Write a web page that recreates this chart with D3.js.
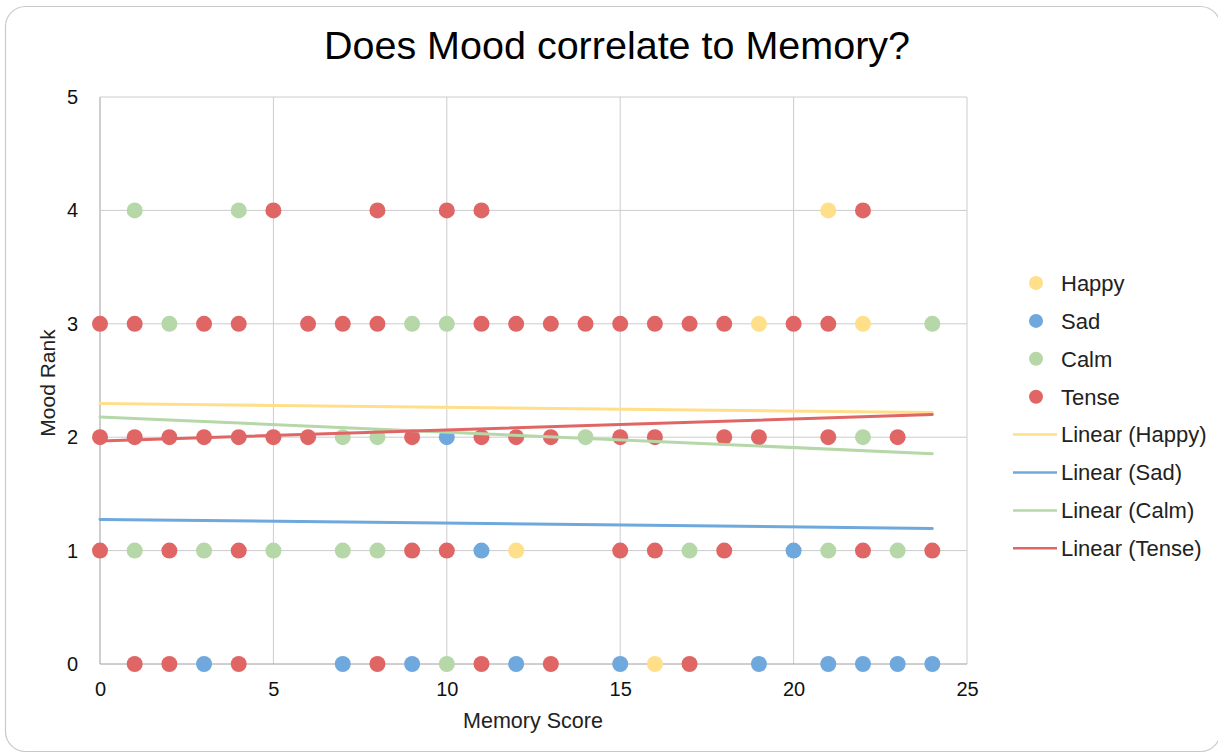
<!DOCTYPE html>
<html>
<head>
<meta charset="utf-8">
<script src="https://cdn.jsdelivr.net/npm/d3@7"></script>
<style>
  html, body { margin: 0; padding: 0; background: #ffffff; }
  svg { display: block; }
  text { font-family: "Liberation Sans", Arial, Helvetica, sans-serif; fill: #222; }
</style>
</head>
<body>
<svg id="chart" width="1218" height="755"></svg>
<script>
// Memory score (x) and mood rank (y) for each mood group
const happyX = [21, 19, 22, 12, 16];
const happyY = [4, 3, 3, 1, 0];

const sadX = [10, 11, 20, 3, 7, 9, 12, 15, 19, 21, 22, 23, 24];
const sadY = [2, 1, 1, 0, 0, 0, 0, 0, 0, 0, 0, 0, 0];

const calmX = [1, 4, 2, 9, 10, 24, 7, 8, 14, 22, 1, 3, 5, 7, 8, 17, 21, 23, 10];
const calmY = [4, 4, 3, 3, 3, 3, 2, 2, 2, 2, 1, 1, 1, 1, 1, 1, 1, 1, 0];

const tenseX = [5, 8, 10, 11, 22,
  0, 1, 3, 4, 6, 7, 8, 11, 12, 13, 14, 15, 16, 17, 18, 20, 21,
  0, 1, 2, 3, 4, 5, 6, 9, 11, 12, 13, 15, 16, 18, 19, 21, 23,
  0, 2, 4, 9, 10, 15, 16, 18, 22, 24,
  1, 2, 4, 8, 11, 13, 17];
const tenseY = [4, 4, 4, 4, 4,
  3, 3, 3, 3, 3, 3, 3, 3, 3, 3, 3, 3, 3, 3, 3, 3, 3,
  2, 2, 2, 2, 2, 2, 2, 2, 2, 2, 2, 2, 2, 2, 2, 2, 2,
  1, 1, 1, 1, 1, 1, 1, 1, 1, 1,
  0, 0, 0, 0, 0, 0, 0];

// Linear trendline coefficients (mood rank = intercept + slope * score)
const trendNames = ["Happy", "Sad", "Calm", "Tense"];
const trendIntercepts = [2.297, 1.275, 2.179, 1.967];
const trendSlopes = [-0.0033, -0.0033, -0.0135, 0.0097];

const xTicks = [0, 5, 10, 15, 20, 25];
const yTicks = [0, 1, 2, 3, 4, 5];

const seriesNames = ["Happy", "Sad", "Calm", "Tense"];
const colors = {
  Happy: "#ffdf8a",
  Sad: "#6fa8dc",
  Calm: "#b6d7a8",
  Tense: "#e06666"
};

const series = [
  { name: "Happy", xs: happyX, ys: happyY },
  { name: "Sad", xs: sadX, ys: sadY },
  { name: "Calm", xs: calmX, ys: calmY },
  { name: "Tense", xs: tenseX, ys: tenseY }
];

const svg = d3.select("#chart");

// outer chart frame
svg.append("rect")
  .attr("x", 5.5).attr("y", 6.5)
  .attr("width", 1215).attr("height", 745)
  .attr("rx", 20).attr("ry", 20)
  .attr("fill", "#fff")
  .attr("stroke", "#c9c9c9")
  .attr("stroke-width", 1.2);

const plot = { left: 100, right: 967, top: 97, bottom: 664 };

const x = d3.scaleLinear().domain([0, 25]).range([plot.left, plot.right]);
const y = d3.scaleLinear().domain([0, 5]).range([plot.bottom, plot.top]);

// title
svg.append("text")
  .attr("x", 617).attr("y", 59)
  .attr("text-anchor", "middle")
  .style("font-size", "39.5px")
  .style("fill", "#000")
  .text("Does Mood correlate to Memory?");

// gridlines
const grid = svg.append("g");
grid.selectAll("line.v").data(xTicks).join("line")
  .attr("x1", d => x(d)).attr("x2", d => x(d))
  .attr("y1", plot.top).attr("y2", plot.bottom)
  .attr("stroke", d => d === 0 ? "#9e9e9e" : "#cccccc")
  .attr("stroke-width", 1);
grid.selectAll("line.h").data(yTicks).join("line")
  .attr("x1", plot.left).attr("x2", plot.right)
  .attr("y1", d => y(d)).attr("y2", d => y(d))
  .attr("stroke", d => d === 0 ? "#9e9e9e" : "#cccccc")
  .attr("stroke-width", 1);

// axes (labels only; lines come from the grid)
const xAxis = svg.append("g")
  .attr("transform", `translate(0,${plot.bottom})`)
  .call(d3.axisBottom(x).tickValues(xTicks).tickFormat(d3.format("d"))
    .tickSize(0).tickPadding(18));
xAxis.select(".domain").remove();
xAxis.selectAll("text").style("font-size", "20px").style("fill", "#111")
  .style("font-family", '"Liberation Sans", Arial, sans-serif');

const yAxis = svg.append("g")
  .attr("transform", `translate(${plot.left},0)`)
  .call(d3.axisLeft(y).tickValues(yTicks).tickFormat(d3.format("d"))
    .tickSize(0).tickPadding(22));
yAxis.select(".domain").remove();
yAxis.selectAll("text").style("font-size", "20px").style("fill", "#111")
  .style("font-family", '"Liberation Sans", Arial, sans-serif');

// axis titles
svg.append("text")
  .attr("x", 533).attr("y", 728)
  .attr("text-anchor", "middle")
  .style("font-size", "21.5px")
  .text("Memory Score");
svg.append("text")
  .attr("transform", "translate(55,383) rotate(-90)")
  .attr("text-anchor", "middle")
  .style("font-size", "21px")
  .text("Mood Rank");

// scatter points
const pts = svg.append("g");
series.forEach(s => {
  const data = s.xs.map((v, i) => ({ x: v, y: s.ys[i] }));
  pts.append("g").selectAll("circle").data(data).join("circle")
    .attr("cx", d => x(d.x))
    .attr("cy", d => y(d.y))
    .attr("r", 8)
    .attr("fill", colors[s.name]);
});

// linear trendlines across the score range of the data
const allX = [].concat(happyX, sadX, calmX, tenseX);
const xExt = d3.extent(allX);
const trends = svg.append("g");
trendNames.forEach((name, i) => {
  const f = v => trendIntercepts[i] + trendSlopes[i] * v;
  trends.append("line")
    .attr("x1", x(xExt[0])).attr("y1", y(f(xExt[0])))
    .attr("x2", x(xExt[1])).attr("y2", y(f(xExt[1])))
    .attr("stroke", colors[name])
    .attr("stroke-width", 3)
    .attr("stroke-linecap", "round");
});

// legend
const legend = svg.append("g");
const legendTop = 283, legendStep = 37.9;
seriesNames.forEach((name, i) => {
  const cy = legendTop + i * legendStep;
  legend.append("circle").attr("cx", 1036).attr("cy", cy).attr("r", 7)
    .attr("fill", colors[name]);
  legend.append("text").attr("x", 1061).attr("y", cy + 7.8)
    .style("font-size", "22px").text(name);
});
trendNames.forEach((name, i) => {
  const cy = legendTop + (i + 4) * legendStep;
  legend.append("line").attr("x1", 1013).attr("x2", 1057)
    .attr("y1", cy).attr("y2", cy)
    .attr("stroke", colors[name]).attr("stroke-width", 2.5);
  legend.append("text").attr("x", 1061).attr("y", cy + 7.8)
    .style("font-size", "22px").text(`Linear (${name})`);
});
</script>
</body>
</html>
